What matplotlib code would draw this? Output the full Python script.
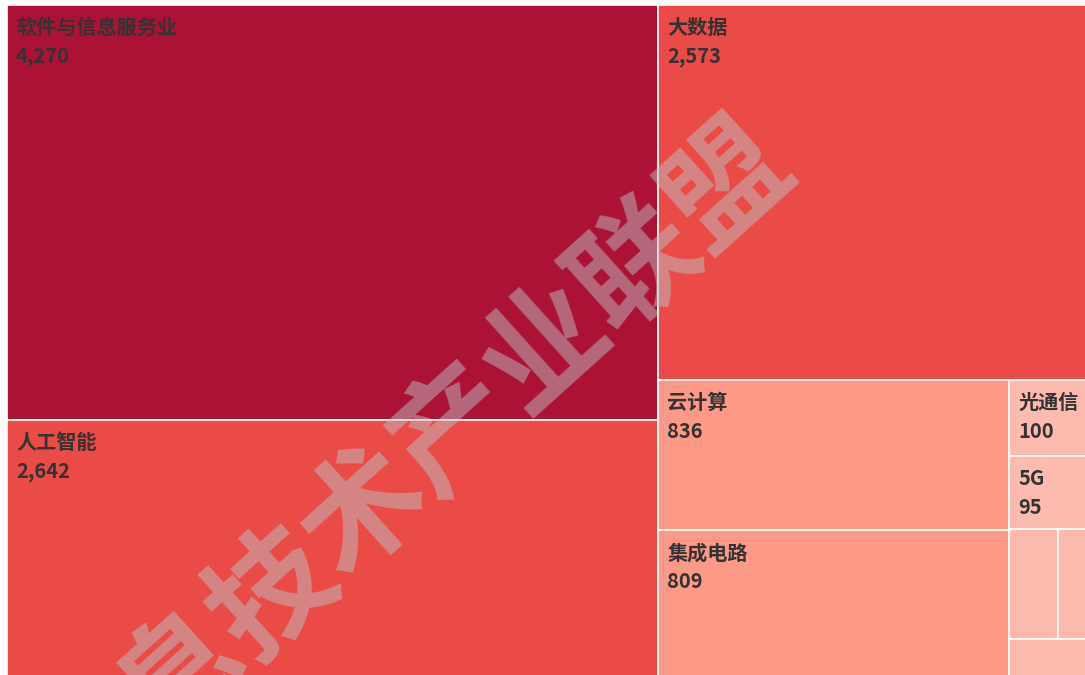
import matplotlib
matplotlib.use('Agg')
import matplotlib.pyplot as plt
import matplotlib.patches as mpatches

plt.rcParams['font.family'] = ['Noto Sans CJK SC', 'DejaVu Sans']

names = ['软件与信息服务业', '人工智能', '大数据', '云计算', '集成电路',
         '光通信', '5G', '其他一', '其他二', '其他三']
values = [4270, 2642, 2573, 836, 809, 100, 95, 84, 60, 48]
colors = ['#AB1236', '#EA4B47', '#EA4B47', '#FC9A87', '#FC9A87',
          '#FDBBB0', '#FDBBB0', '#FDBBB0', '#FDBBB0', '#FDBBB0']
watermark = '信息技术产业联盟'

SQUARE_RATIO = 0.5 * (1 + 5 ** 0.5)


def worst(row, fixed):
    areas = [a for _, a in row]
    s = sum(areas)
    f = fixed * fixed * SQUARE_RATIO
    return max(f * max(areas) / (s * s), s * s / (f * min(areas)))


def position(row, rect, fixed, flush, out):
    x, y, w, h = rect
    s = sum(a for _, a in row)
    other = s / fixed
    if fixed == w:
        if flush or other > h:
            other = h
        cx = x
        for k, (idx, a) in enumerate(row):
            ln = a / other if k < len(row) - 1 else x + w - cx
            out[idx] = (cx, y, ln, other)
            cx += ln
        return (x, y + other, w, h - other)
    else:
        if flush or other > w:
            other = w
        cy = y
        for k, (idx, a) in enumerate(row):
            ln = a / other if k < len(row) - 1 else y + h - cy
            out[idx] = (x, cy, other, ln)
            cy += ln
        return (x + other, y, w - other, h)


def squarify(vals, rect):
    total = float(sum(vals))
    areas = [v / total * rect[2] * rect[3] for v in vals]
    out = {}
    row = []
    best = float('inf')
    fixed = min(rect[2], rect[3])
    i = 0
    while i < len(areas):
        row.append((i, areas[i]))
        score = worst(row, fixed)
        if score <= best:
            i += 1
            best = score
        else:
            row.pop()
            rect = position(row, rect, fixed, False, out)
            fixed = min(rect[2], rect[3])
            row = []
            best = float('inf')
    if row:
        position(row, rect, fixed, True, out)
    return [out[k] for k in range(len(vals))]


fig = plt.figure(figsize=(10.85, 6.75), dpi=100)
ax = fig.add_axes([0, 0, 1, 1])
ax.set_xlim(0, 1085)
ax.set_ylim(675, 0)
ax.axis('off')

# chart area runs a bit past the right/bottom edge, like the cropped original
rects = squarify(values, (7, 5, 1085, 671))

for (x, y, w, h), name, val, c in zip(rects, names, values, colors):
    ax.add_patch(mpatches.Rectangle((x, y), w, h, facecolor=c,
                                    edgecolor='white', linewidth=1.2))
    if w >= 60 and h >= 60:
        ax.text(x + 9, y + 12, name, fontsize=14.5, color='#333333',
                fontweight='bold', va='top', ha='left')
        ax.text(x + 9, y + 41, f'{val:,}', fontsize=14.5, color='#333333',
                fontweight='bold', va='top', ha='left')

ax.text(410, 472, watermark, rotation=42, fontsize=88, fontweight='bold',
        color=(0.75, 0.75, 0.75), alpha=0.5, ha='center', va='center',
        rotation_mode='anchor', clip_on=True)

fig.savefig('out.png', dpi=100)
